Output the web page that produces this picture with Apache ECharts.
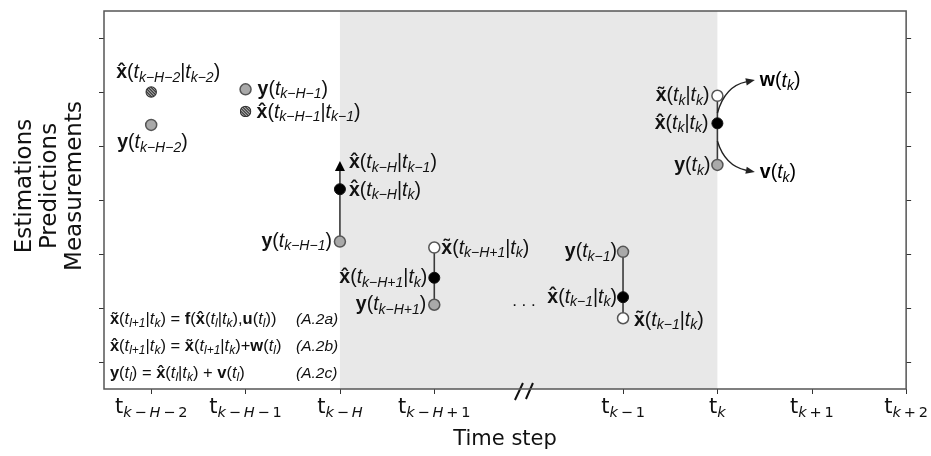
<!DOCTYPE html>
<html><head><meta charset="utf-8">
<script src="https://cdn.jsdelivr.net/npm/echarts@6/dist/echarts.min.js"></script>
<style>html,body{margin:0;padding:0;background:#fff}#c{width:931px;height:456px}</style>
</head><body><div id="c"></div>
<script>
// ---------- data ----------
const tickValues = [1, 2, 3, 4, 6, 7, 8, 9];
const tickSubs = ['k − H − 2', 'k − H − 1', 'k − H', 'k − H + 1', 'k − 1', 'k', 'k + 1', 'k + 2'];
const yTickValues = [1, 2, 3, 4, 5, 6, 7];
const horizon = [3, 7];

const measX = [1, 2, 3, 4, 6, 7];
const measY = [5.39, 6.05, 3.23, 2.06, 3.04, 4.65];
const measSubs = [['k−H−2'], ['k−H−1'], ['k−H−1'], ['k−H+1'], ['k−1'], ['k']];

const estX = [3, 4, 6, 7];
const estY = [4.20, 2.56, 2.20, 5.42];
const estSubs = [['k−H', 'k'], ['k−H+1', 'k'], ['k−1', 'k'], ['k', 'k']];

const predX = [4, 6, 7];
const predY = [3.12, 1.81, 5.93];
const predSubs = [['k−H+1', 'k'], ['k−1', 'k'], ['k', 'k']];

const priorX = [1, 2];
const priorY = [6.00, 5.64];
const priorSubs = [['k−H−2', 'k−2'], ['k−H−1', 'k−1']];

const arrowX = [3];
const arrowY = [4.63];
const arrowSubs = [['k−H', 'k−1']];

const stemX = [3, 4, 6, 7];
const stemLow = [3.23, 2.06, 1.81, 4.65];
const stemHigh = [4.63, 3.12, 3.04, 5.93];

const noiseNames = ['w', 'v'];
const noiseStart = [[7, 5.61], [7, 5.09]];
const noiseCtrl = [[7.081, 6.11], [7.081, 4.63]];
const noiseEnd = [[7.397, 6.22], [7.397, 4.52]];

const ellipsisPos = [[4.95, 2.13]];
const breakPos = [[4.95, 0.5]];

const eqX = 0.563, eqTagX = 2.535;
const eqY = [1.78, 1.28, 0.78];
const eqTags = ['(A.2a)', '(A.2b)', '(A.2c)'];

// ---------- label layout (style) ----------
const measLay = [['left', -34, 18], ['left', 12, 0], ['right', -8, 0], ['right', -8, 0], ['right', -6, 0], ['right', -7, 1]];
const estLay = [['left', 9, 1], ['right', -7, 0], ['right', -6, 0], ['right', -9, 0]];
const predLay = [['left', 7, 1], ['left', 11, 2], ['right', -8, 0]];
const priorLay = [['left', -35, -19], ['left', 11, 1]];
const arrowLay = [['left', 9, -3]];

const HAT = 'x\u0302', TIL = 'x\u0303';
const LF = 'Liberation Sans, Arial, sans-serif';
const TC = '#111';
const RICH = {
  bo: {fontFamily: LF, fontWeight: 'bold', fontSize: 19.5, lineHeight: 24, color: TC},
  rg: {fontFamily: LF, fontSize: 19.5, lineHeight: 24, color: TC},
  it: {fontFamily: LF, fontStyle: 'italic', fontSize: 19.5, lineHeight: 24, color: TC},
  sb: {fontFamily: LF, fontStyle: 'italic', fontSize: 14, lineHeight: 12, verticalAlign: 'bottom', color: TC},
  eb: {fontFamily: LF, fontWeight: 'bold', fontSize: 16.5, lineHeight: 20, color: TC},
  er: {fontFamily: LF, fontSize: 16.5, lineHeight: 20, color: TC},
  ei: {fontFamily: LF, fontStyle: 'italic', fontSize: 16.5, lineHeight: 20, color: TC},
  es: {fontFamily: LF, fontStyle: 'italic', fontSize: 12, lineHeight: 9, verticalAlign: 'bottom', color: TC}
};
function lab(base, subs) {
  let s = '{bo|' + base + '}{rg|(}';
  subs.forEach((sub, i) => { if (i) s += '{rg||}'; s += '{it|t}{sb|' + sub + '}'; });
  return s + '{rg|)}';
}
const eqTexts = [
  '{eb|' + TIL + '}{er|(}{ei|t}{es|l+1}{er||}{ei|t}{es|k}{er|) = }{eb|f}{er|(}{eb|' + HAT + '}{er|(}{ei|t}{es|l}{er||}{ei|t}{es|k}{er|),}{eb|u}{er|(}{ei|t}{es|l}{er|))}',
  '{eb|' + HAT + '}{er|(}{ei|t}{es|l+1}{er||}{ei|t}{es|k}{er|) = }{eb|' + TIL + '}{er|(}{ei|t}{es|l+1}{er||}{ei|t}{es|k}{er|)+}{eb|w}{er|(}{ei|t}{es|l}{er|)}',
  '{eb|y}{er|(}{ei|t}{es|l}{er|) = }{eb|' + HAT + '}{er|(}{ei|t}{es|l}{er||}{ei|t}{es|k}{er|) + }{eb|v}{er|(}{ei|t}{es|l}{er|)}'
];

const XF = 'DejaVu Sans, sans-serif';
const XR = {
  xt: {fontFamily: XF, fontSize: 21, lineHeight: 26, color: TC},
  xi: {fontFamily: XF, fontStyle: 'italic', fontSize: 14.5, lineHeight: 8, verticalAlign: 'bottom', color: TC},
  xu: {fontFamily: XF, fontSize: 14.5, lineHeight: 8, verticalAlign: 'bottom', color: TC},
  xs: {fontFamily: XF, fontSize: 9, lineHeight: 8, verticalAlign: 'bottom', color: TC}
};
function subRich(s) {
  return s.split(' ').map(t => /[A-Za-z]/.test(t) ? '{xi|' + t + '}' : '{xu|' + t + '}').join('{xs| }');
}

function pts(xs, ys, lay) {
  return xs.map((x, i) => ({
    value: [x, ys[i]],
    label: {align: lay[i][0], offset: [lay[i][1], lay[i][2]]}
  }));
}
function lblOpt(base, subs) {
  return {show: true, position: 'inside', verticalAlign: 'middle', color: TC, opacity: 1,
    formatter: p => lab(base, subs[p.dataIndex]), rich: RICH};
}
const hidden = {color: 'rgba(0,0,0,0)', opacity: 1};

const hatchSvg = "<svg xmlns='http://www.w3.org/2000/svg' width='24' height='24' viewBox='0 0 24 24'>" +
  "<defs><clipPath id='c'><circle cx='12' cy='12' r='9.5'/></clipPath></defs>" +
  "<circle cx='12' cy='12' r='11.5' fill='#2e2e2e'/>" +
  "<g clip-path='url(#c)' stroke='#a8a8a8' stroke-width='2.2'>" +
  "<line x1='-6' y1='0' x2='18' y2='24'/><line x1='0' y1='0' x2='24' y2='24'/><line x1='6' y1='0' x2='30' y2='24'/>" +
  "<line x1='-12' y1='0' x2='12' y2='24'/><line x1='12' y1='0' x2='36' y2='24'/></g></svg>";
const hatchSym = 'image://data:image/svg+xml;charset=utf-8,' + encodeURIComponent(hatchSvg);

const series = [];
// shaded horizon band
series.push({type: 'line', z: 1, data: [[horizon[0], 1]], symbol: 'none', lineStyle: {opacity: 0}, silent: true,
  markArea: {silent: true, itemStyle: {color: '#e8e8e8'}, data: [[{xAxis: horizon[0]}, {xAxis: horizon[1]}]]}});
// stems
stemX.forEach((x, i) => series.push({type: 'line', z: 2, symbol: 'none', silent: true,
  data: [[x, stemLow[i]], [x, stemHigh[i]]], lineStyle: {color: '#3a3a3a', width: 1.6}}));
// markers
series.push({type: 'scatter', z: 4, symbol: 'triangle', symbolSize: [10, 10],
  itemStyle: {color: '#000', opacity: 1}, data: pts(arrowX, arrowY, arrowLay), label: lblOpt(HAT, arrowSubs)});
series.push({type: 'scatter', z: 4, symbol: 'circle', symbolSize: 11,
  itemStyle: {color: '#a9a9a9', borderColor: '#555', borderWidth: 1.5, opacity: 1}, data: pts(measX, measY, measLay), label: lblOpt('y', measSubs)});
series.push({type: 'scatter', z: 4, symbol: 'circle', symbolSize: 11,
  itemStyle: {color: '#000', borderColor: '#111', borderWidth: 1, opacity: 1}, data: pts(estX, estY, estLay), label: lblOpt(HAT, estSubs)});
series.push({type: 'scatter', z: 4, symbol: 'circle', symbolSize: 11,
  itemStyle: {color: '#fff', borderColor: '#555', borderWidth: 1.5, opacity: 1}, data: pts(predX, predY, predLay), label: lblOpt(TIL, predSubs)});
series.push({type: 'scatter', z: 4, symbol: hatchSym, symbolSize: 12, itemStyle: {opacity: 1},
  data: pts(priorX, priorY, priorLay), label: lblOpt(HAT, priorSubs)});
// ellipsis
series.push({type: 'scatter', z: 4, symbolSize: 1, itemStyle: hidden, data: ellipsisPos,
  label: {show: true, position: 'inside', formatter: '. . .', fontFamily: LF, fontSize: 17, color: TC}});
// equations
series.push({type: 'scatter', z: 4, symbolSize: 1, itemStyle: hidden,
  data: eqY.map(y => [eqX, y]),
  label: {show: true, position: 'inside', align: 'left', verticalAlign: 'middle', color: TC, formatter: p => eqTexts[p.dataIndex], rich: RICH}});
series.push({type: 'scatter', z: 4, symbolSize: 1, itemStyle: hidden,
  data: eqY.map(y => [eqTagX, y]),
  label: {show: true, position: 'inside', align: 'left', verticalAlign: 'middle', formatter: p => eqTags[p.dataIndex],
    fontFamily: LF, fontStyle: 'italic', fontSize: 15.5, color: TC}});
// noise arrows
series.push({type: 'custom', z: 5, silent: true,
  data: noiseStart.map((s, i) => [s[0], s[1], noiseCtrl[i][0], noiseCtrl[i][1], noiseEnd[i][0], noiseEnd[i][1]]),
  renderItem: (params, api) => {
    const i = params.dataIndex;
    const p0 = api.coord([api.value(0), api.value(1)]);
    const c = api.coord([api.value(2), api.value(3)]);
    const p1 = api.coord([api.value(4), api.value(5)]);
    const dx = p1[0] - c[0], dy = p1[1] - c[1], L = Math.hypot(dx, dy);
    const ux = dx / L, uy = dy / L, hl = 9, hw = 3.6;
    const bx = p1[0] - ux * hl, by = p1[1] - uy * hl;
    return {type: 'group', children: [
      {type: 'bezierCurve', shape: {x1: p0[0], y1: p0[1], cpx1: c[0], cpy1: c[1], x2: bx, y2: by},
        style: {stroke: '#222', lineWidth: 1.5, fill: 'none'}},
      {type: 'polygon', shape: {points: [[p1[0], p1[1]], [bx - uy * hw, by + ux * hw], [bx + uy * hw, by - ux * hw]]},
        style: {fill: '#222'}},
      {type: 'text', style: {text: lab(noiseNames[i], ['k']), rich: RICH, x: p1[0] + 5, y: p1[1] + 1,
        align: 'left', verticalAlign: 'middle'}}
    ]};
  }});
// axis break mark
series.push({type: 'custom', z: 6, silent: true, data: breakPos,
  renderItem: (params, api) => {
    const p = api.coord([api.value(0), api.value(1)]);
    return {type: 'group', children: [
      {type: 'line', shape: {x1: p[0] - 9, y1: p[1] + 11, x2: p[0] - 1, y2: p[1] - 6}, style: {stroke: '#111', lineWidth: 2}},
      {type: 'line', shape: {x1: p[0] + 2, y1: p[1] + 10, x2: p[0] + 9, y2: p[1] - 6}, style: {stroke: '#111', lineWidth: 2}}
    ]};
  }});

const tickStyle = {show: true, length: 5, lineStyle: {color: '#333', width: 1}};
const option = {
  animation: false,
  grid: {show: true, z: 10, left: 104, right: 21, top: 11, bottom: 67, borderColor: '#555', borderWidth: 1.5, backgroundColor: 'transparent'},
  xAxis: [{
    type: 'value', min: 0.5, max: 9, position: 'bottom',
    axisLine: {show: false, onZero: false}, splitLine: {show: false},
    axisTick: Object.assign({customValues: tickValues}, tickStyle),
    axisLabel: {customValues: tickValues, margin: 6, rich: XR,
      formatter: v => { const i = tickValues.indexOf(Math.round(v)); return '{xt|t}' + subRich(tickSubs[i]); }},
    name: 'Time step', nameLocation: 'middle', nameGap: 40,
    nameTextStyle: {fontFamily: XF, fontSize: 21, color: TC}
  }],
  yAxis: [{
    type: 'value', min: 0.5, max: 7.5, position: 'left',
    axisLine: {show: false, onZero: false}, splitLine: {show: false},
    axisTick: Object.assign({customValues: yTickValues}, tickStyle),
    axisLabel: {show: false},
    name: 'Estimations\nPredictions\nMeasurements', nameLocation: 'middle', nameRotate: 90, nameGap: 16,
    nameTextStyle: {fontFamily: XF, fontSize: 23, lineHeight: 25, color: TC, padding: [0, 0, 0, 28]}
  }, {
    type: 'value', min: 0.5, max: 7.5, position: 'right',
    axisLine: {show: false, onZero: false}, splitLine: {show: false},
    axisTick: Object.assign({customValues: yTickValues}, tickStyle),
    axisLabel: {show: false}
  }],
  series: series
};
const chart = echarts.init(document.getElementById('c'), null, {renderer: 'canvas'});
chart.setOption(option);
</script></body></html>
